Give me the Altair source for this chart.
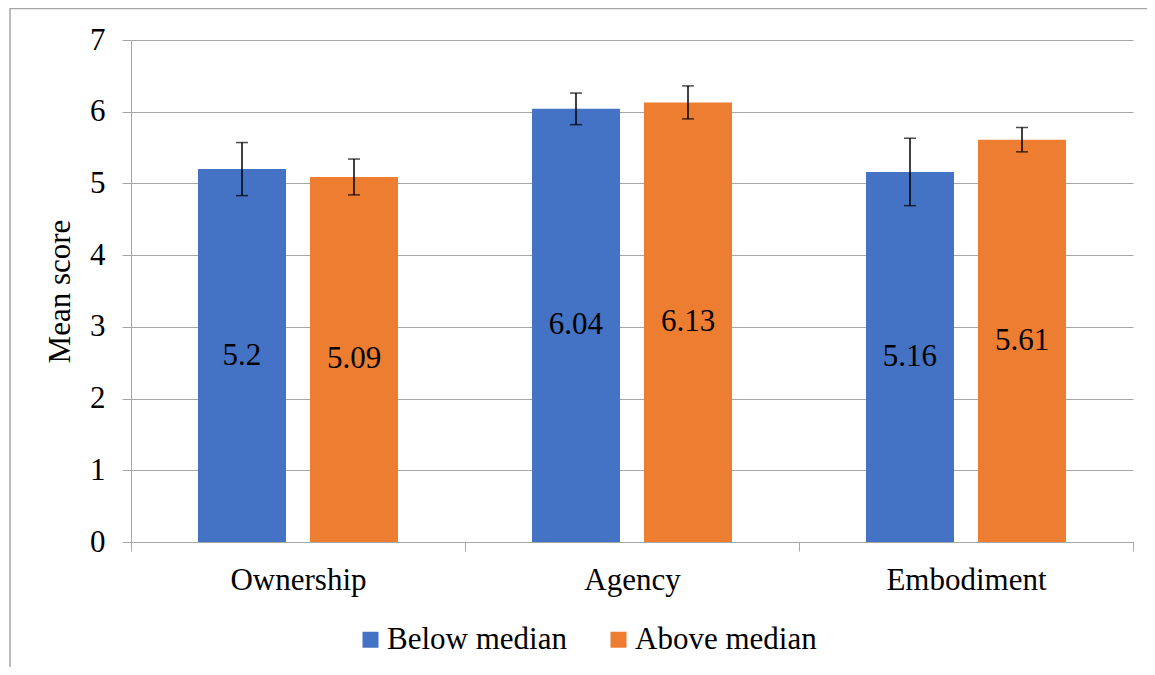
import altair as alt
import pandas as pd

categories = ["Ownership", "Agency", "Embodiment"]
groups = ["Below median", "Above median"]
below_values = [5.2, 6.04, 5.16]
above_values = [5.09, 6.13, 5.61]
below_errors = [0.37, 0.22, 0.47]
above_errors = [0.25, 0.23, 0.17]
below_labels = ["5.2", "6.04", "5.16"]
above_labels = ["5.09", "6.13", "5.61"]
y_ticks = [0, 1, 2, 3, 4, 5, 6, 7]
colors = ["#4472C4", "#ED7D31"]

rows = []
for i, c in enumerate(categories):
    for g, vals, errs, labs in [
        (groups[0], below_values, below_errors, below_labels),
        (groups[1], above_values, above_errors, above_labels),
    ]:
        v = vals[i]
        e = errs[i]
        rows.append({"category": c, "group": g, "value": v, "lo": v - e, "hi": v + e,
                     "mid": v / 2, "label": labs[i]})
df = pd.DataFrame(rows)

FONT = "Liberation Serif"
FS = 31
GRAY = "#a6a6a6"

x_enc = alt.X("category:N", sort=categories, title=None,
              scale=alt.Scale(paddingInner=0, paddingOuter=0),
              axis=alt.Axis(labelAngle=0, tickBand="extent", tickSize=9, labelPadding=14,
                            domainColor=GRAY, tickColor=GRAY, grid=False,
                            labelFont=FONT, labelFontSize=FS, labelColor="black"))
xo_enc = alt.XOffset("group:N", sort=groups,
                     scale=alt.Scale(paddingInner=0.214, paddingOuter=0.598))

base = alt.Chart(df).encode(x=x_enc, xOffset=xo_enc)

bars = base.mark_bar().encode(
    y=alt.Y("value:Q", scale=alt.Scale(domain=[0, 7], nice=False),
            axis=alt.Axis(values=y_ticks, format="d", title="Mean score", grid=True,
                          gridColor=GRAY, domainColor=GRAY, tickColor=GRAY, tickSize=9,
                          labelPadding=17, titlePadding=13,
                          labelFont=FONT, labelFontSize=FS, labelColor="black",
                          titleFont=FONT, titleFontSize=FS, titleColor="black",
                          titleFontWeight="normal")),
    color=alt.Color("group:N", sort=groups,
                    scale=alt.Scale(domain=groups, range=colors),
                    legend=alt.Legend(title=None, orient="none", legendX=224, legendY=584,
                                      direction="horizontal", symbolType="square",
                                      symbolSize=256, symbolStrokeWidth=0,
                                      labelFont=FONT, labelFontSize=FS, labelColor="black",
                                      labelLimit=400, labelOffset=1, columnPadding=36)),
)

err_rule = base.mark_rule(color="black", strokeWidth=1.5).encode(
    y="lo:Q", y2="hi:Q")
cap_lo = base.mark_tick(color="black", thickness=1.5, size=12).encode(y="lo:Q")
cap_hi = base.mark_tick(color="black", thickness=1.5, size=12).encode(y="hi:Q")

labels = base.mark_text(font=FONT, fontSize=FS, baseline="middle", color="black").encode(
    y="mid:Q", text="label:N")

frame_df = pd.DataFrame({"k": [0]})
top_line = alt.Chart(frame_df).mark_rule(color=GRAY, strokeWidth=1.5).encode(
    x=alt.value(-121), x2=alt.value(1030), y=alt.value(-31.5), y2=alt.value(-31.5))
left_line = alt.Chart(frame_df).mark_rule(color=GRAY, strokeWidth=1.5).encode(
    x=alt.value(-121), x2=alt.value(-121), y=alt.value(-32), y2=alt.value(650))

chart = alt.layer(bars, err_rule, cap_lo, cap_hi, labels, top_line, left_line).properties(
    width=1002, height=502,
    autosize=alt.AutoSizeParams(type="none"),
    padding={"left": 123, "top": 32, "right": 14, "bottom": 125},
    background="white",
).configure_view(stroke=None)

chart.save("out.html", embed_options={"renderer": "svg", "actions": False})
